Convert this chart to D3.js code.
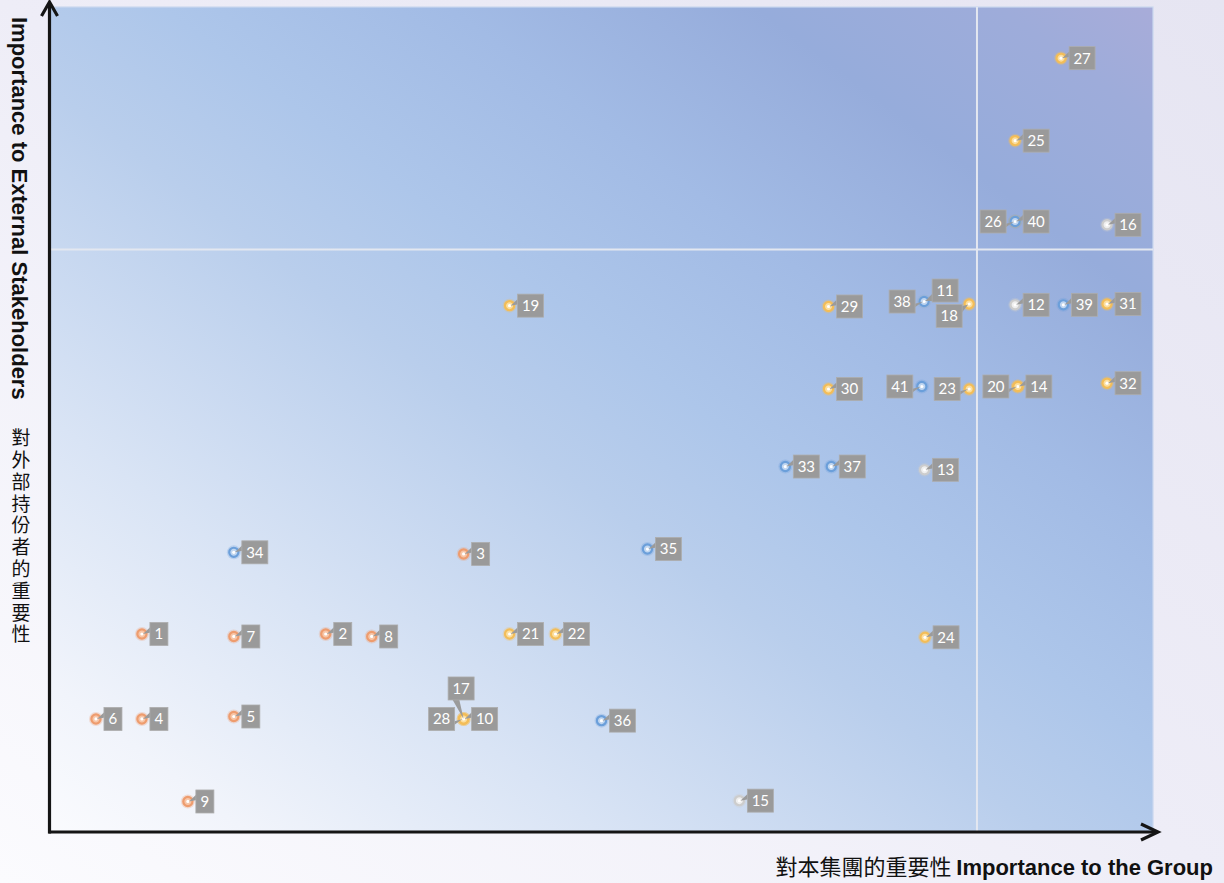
<!DOCTYPE html>
<html>
<head>
<meta charset="utf-8">
<script src="https://cdn.jsdelivr.net/npm/d3@7"></script>
<style>
html,body{margin:0;padding:0;background:#ecebf5;}
svg{display:block;}
</style>
</head>
<body>
<svg id="chart" width="1224" height="883"></svg>
<script>
// ---------- data ----------
const issueIds = [1,2,3,4,5,6,7,8,9,10,11,12,13,14,15,16,17,18,19,20,21,22,23,24,25,26,27,28,29,30,31,32,33,34,35,36,37,38,39,40,41];
const groupImportance = [2,6,9,2,4,1,4,7,3,9,19.02,21,19.03,21.06,15,23,9,20,10,21.06,10,11,20,19.04,21,21,22,9,16.94,16.94,23,23,16,4,13,12,17,19.02,22.05,21,18.97];
const externalImportance = [3.02,3.02,3.99,1.99,2.02,1.99,2.99,2.99,0.99,1.99,7.05,7.01,5.01,6.02,1.0,7.98,1.99,7.02,7.0,6.02,3.02,3.02,5.99,2.98,9.0,8.02,10.0,1.99,6.99,5.99,7.02,6.06,5.05,4.01,4.05,1.97,5.05,7.05,7.01,8.02,6.02];
const issueCategory = ["env","env","env","env","env","env","env","env","env",
  "ops","gov","gov","gov","ops","gov","gov","ops","ops","ops","ops","ops","ops","ops","ops","ops","ops","ops","ops","ops","ops","ops","ops",
  "people","people","people","people","people","people","people","people","people"];
const categoryOrder = ["env","ops","gov","people"];
const groupThreshold = 20.17;
const externalThreshold = 7.68;
const xDomain = [0, 24];
const yDomain = [0.62, 10.62];
const xTitleZh = "對本集團的重要性";
const xTitleEn = "Importance to the Group";
const yTitleEn = "Importance to External Stakeholders";
const yTitleZh = "對外部持份者的重要性";

// ---------- styles ----------
const catColors = {
  env:    {ring:"#ee9c6e", fill:"#f7c6a8"},
  ops:    {ring:"#f3bd58", fill:"#fcdf9f"},
  gov:    {ring:"#cdcdcd", fill:"#efefef"},
  people: {ring:"#6b9fda", fill:"#c0d6f0"}
};
const labelPlacement = {11:"ur",17:"u",18:"dl",20:"l",23:"l",26:"l",28:"l",38:"l",41:"l"};

const svg = d3.select("#chart");
const defs = svg.append("defs");

// page background gradient
const pg = defs.append("linearGradient").attr("id","pagebg")
  .attr("x1",0).attr("y1",1).attr("x2",1).attr("y2",0);
[[0,"#fbfbfe"],[0.5,"#eeedf7"],[1,"#e6e5f2"]].forEach(s=>pg.append("stop").attr("offset",s[0]).attr("stop-color",s[1]));
// plot gradient
const gg = defs.append("linearGradient").attr("id","plotbg")
  .attr("x1",0).attr("y1",1).attr("x2",1).attr("y2",0);
[[0,"#fafbfe"],[0.09,"#f1f4fb"],[0.25,"#d9e4f5"],[0.45,"#b9ceec"],[0.55,"#adc6ea"],[0.68,"#a2bbe5"],[0.82,"#96acdb"],[0.93,"#9eacda"],[1,"#a8acd9"]]
  .forEach(s=>gg.append("stop").attr("offset",s[0]).attr("stop-color",s[1]));

svg.append("rect").attr("width",1224).attr("height",883).attr("fill","url(#pagebg)");

const x = d3.scaleLinear().domain(xDomain).range([50,1153]);
const y = d3.scaleLinear().domain(yDomain).range([832,7]);

const [xl,xr] = x.range();
const [yb,yt] = y.range();

svg.append("rect").attr("x",xl).attr("y",yt).attr("width",xr-xl).attr("height",yb-yt)
  .attr("fill","url(#plotbg)").attr("stroke","#cad8ef").attr("stroke-width",1.2);

// quadrant lines
svg.append("line").attr("x1",x(groupThreshold)).attr("x2",x(groupThreshold)).attr("y1",yt).attr("y2",yb)
  .attr("stroke","#e3e7f0").attr("stroke-width",2);
svg.append("line").attr("x1",xl).attr("x2",xr).attr("y1",y(externalThreshold)).attr("y2",y(externalThreshold))
  .attr("stroke","#e3e7f0").attr("stroke-width",2);

// axes
const axisColor = "#151515";
const gx = svg.append("g").attr("transform",`translate(0,${yb})`)
  .call(d3.axisBottom(x).tickValues([]).tickSizeOuter(0));
gx.select(".domain").attr("d",`M${xl-1.5},0H${xr+4}`).attr("stroke",axisColor).attr("stroke-width",3.2);
gx.append("path").attr("d",`M${xr-12},-8L${xr+5},0L${xr-12},8`).attr("fill","none")
  .attr("stroke",axisColor).attr("stroke-width",3.2).attr("stroke-linejoin","miter");

const gy = svg.append("g").attr("transform",`translate(${xl-0.5},0)`)
  .call(d3.axisLeft(y).tickValues([]).tickSizeOuter(0));
gy.select(".domain").attr("d",`M0,${yb+1.5}V3`).attr("stroke",axisColor).attr("stroke-width",3.2);
gy.append("path").attr("d",`M-8,16L0,2L8,16`).attr("fill","none")
  .attr("stroke",axisColor).attr("stroke-width",3.2).attr("stroke-linejoin","miter");

// axis titles
const xt = svg.append("text").attr("x",1213).attr("y",875).attr("text-anchor","end").attr("fill","#111");
xt.append("tspan").text(xTitleZh + " ").attr("font-family","'Noto Sans CJK TC','Noto Sans CJK SC',sans-serif").attr("font-size",22);
xt.append("tspan").text(xTitleEn).attr("font-family","'Liberation Sans',Arial,sans-serif").attr("font-weight","bold").attr("font-size",22);

svg.append("text").attr("transform","translate(12,17) rotate(90)")
  .attr("font-family","'Liberation Sans',Arial,sans-serif").attr("font-weight","bold").attr("font-size",22)
  .attr("fill","#111").text(yTitleEn);

svg.append("text").attr("x",21).attr("y",428.5)
  .style("writing-mode","vertical-rl").style("text-orientation","upright")
  .attr("letter-spacing",2.8)
  .attr("font-family","'Noto Sans CJK TC','Noto Sans CJK SC',sans-serif").attr("font-size",19).attr("fill","#111")
  .text(yTitleZh);

// points
const points = issueIds.map((id,i)=>({id, gx:groupImportance[i], ey:externalImportance[i], cat:issueCategory[i]}));
const drawOrder = points.slice().sort((a,b)=>categoryOrder.indexOf(a.cat)-categoryOrder.indexOf(b.cat));

const markers = svg.append("g").selectAll("g").data(drawOrder).join("g")
  .attr("transform",d=>`translate(${x(d.gx)},${y(d.ey)})`);
markers.append("circle").attr("r",7).attr("fill",d=>catColors[d.cat].ring).attr("opacity",0.28);
markers.append("circle").attr("r",4.6).attr("fill",d=>catColors[d.cat].fill)
  .attr("stroke",d=>catColors[d.cat].ring).attr("stroke-width",2.2);
markers.append("circle").attr("r",1.6).attr("fill","#ffffff");

// labels
const labelLayer = svg.append("g");
const bh = 23;
points.forEach(p=>{
  const mx = x(p.gx), my = y(p.ey);
  const g = labelLayer.append("g");
  const wedge = g.append("polygon").attr("fill","#9b9b9b");
  const rect = g.append("rect").attr("fill","#9a9a9a").attr("stroke","#adadad").attr("stroke-width",0.8);
  const t = g.append("text").text(p.id).attr("font-family","Lato,'Open Sans',sans-serif")
    .attr("font-size",15).attr("fill","#ffffff").attr("text-anchor","middle").attr("dy","0.36em");
  const tw = t.node().getComputedTextLength();
  const bw = Math.round(tw + 9);
  const pl = labelPlacement[p.id] || "r";
  let bx, by, pts;
  if (pl === "r") {
    bx = mx + 8; by = my - bh/2;
    pts = [[mx+1,my],[bx+1,by+4],[bx+1,by+10]];
  } else if (pl === "l") {
    bx = mx - 9 - bw; by = my - bh/2;
    pts = [[mx-1,my],[bx+bw-1,by+bh-9],[bx+bw-7,by+bh-1]];
  } else if (pl === "ur") {
    bx = mx + 8; by = my - bh + 0.5;
    pts = [[mx+1,my-0.5],[bx+1,by+bh-9],[bx+7,by+bh-1]];
  } else if (pl === "dl") {
    bx = mx - 7 - bw; by = my + 0.5;
    pts = [[mx-1,my+0.5],[bx+bw-1,by+2],[bx+bw-1,by+9]];
  } else { // up
    bx = mx - 2.5 - bw/2; by = my - 19 - bh;
    pts = [[mx,my],[bx+4,by+bh-1],[bx+11,by+bh-1]];
  }
  wedge.attr("points",pts.map(q=>q.join(",")).join(" "));
  rect.attr("x",bx).attr("y",by).attr("width",bw).attr("height",bh);
  t.attr("x",bx+bw/2).attr("y",by+bh/2);
});
</script>
</body>
</html>
